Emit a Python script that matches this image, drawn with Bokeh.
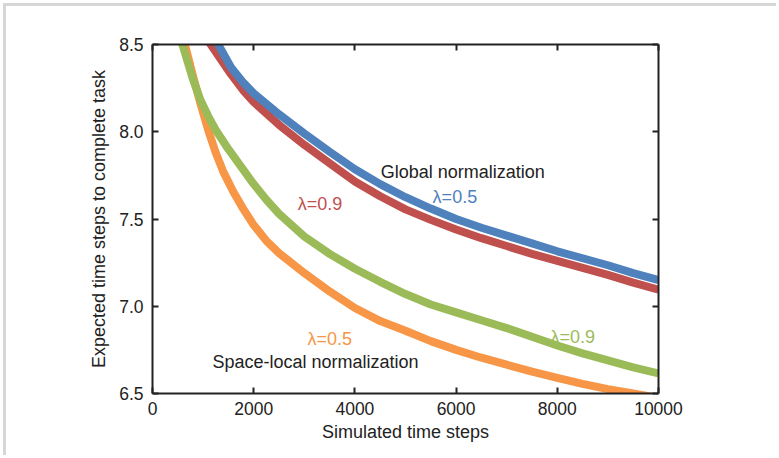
from bokeh.plotting import figure
from bokeh.models import FixedTicker, LinearAxis, Range1d, NumeralTickFormatter
from bokeh.embed import file_html
from bokeh.resources import INLINE
from bokeh.core.properties import value

# ---- data ----
x_ticks = [0, 2000, 4000, 6000, 8000, 10000]
y_ticks = [6.5, 7.0, 7.5, 8.0, 8.5]

global_05_x = [1150, 1300, 1550, 1800, 2000, 2500, 3000, 3500, 4000, 4500, 5000,
               5500, 6000, 6500, 7000, 7500, 8000, 8500, 9000, 9500, 10000]
global_05_y = [8.60, 8.50, 8.37, 8.28, 8.22, 8.10, 7.99, 7.885, 7.785, 7.70, 7.625,
               7.56, 7.50, 7.45, 7.405, 7.36, 7.315, 7.275, 7.235, 7.19, 7.15]

global_09_x = [930, 1150, 1550, 1800, 2000, 2500, 3000, 3500, 4000, 4500, 5000,
               5500, 6000, 6500, 7000, 7500, 8000, 8500, 9000, 9500, 10000]
global_09_y = [8.60, 8.50, 8.33, 8.235, 8.17, 8.04, 7.925, 7.82, 7.715, 7.63, 7.555,
               7.495, 7.44, 7.39, 7.345, 7.30, 7.26, 7.22, 7.18, 7.135, 7.095]

local_09_x = [490, 590, 800, 950, 1100, 1250, 1500, 1750, 2000, 2250, 2500, 3000, 3500,
              4000, 4500, 5000, 5500, 6000, 6500, 7000, 7500, 8000, 8500, 9000, 9500, 10000]
local_09_y = [8.60, 8.50, 8.30, 8.18, 8.09, 8.01, 7.90, 7.80, 7.70, 7.61, 7.53, 7.40, 7.30,
              7.215, 7.14, 7.07, 7.01, 6.965, 6.92, 6.875, 6.825, 6.775, 6.73, 6.69, 6.65, 6.615]

local_05_x = [550, 640, 800, 950, 1100, 1250, 1400, 1600, 1800, 2000, 2250, 2500, 3000, 3500,
              4000, 4500, 5000, 5500, 6000, 6500, 7000, 7500, 8000, 8500, 9000, 9500, 10000]
local_05_y = [8.60, 8.50, 8.32, 8.16, 8.01, 7.88, 7.77, 7.655, 7.555, 7.465, 7.375, 7.305, 7.19, 7.085,
              6.99, 6.915, 6.86, 6.80, 6.75, 6.705, 6.665, 6.625, 6.59, 6.555, 6.525, 6.50, 6.475]

BLUE = "#4F81BD"
RED = "#C0504D"
GREEN = "#9BBB59"
ORANGE = "#F79646"
INK = "#222222"
FONT = "Liberation Sans"
FS = "18px"

p = figure(width=773, height=452,
           x_range=Range1d(0, 10000), y_range=Range1d(6.5, 8.5),
           output_backend="svg", toolbar_location=None,
           min_border_left=146, min_border_right=121,
           min_border_top=38, min_border_bottom=65)
p.styles = {"border-top": "3px solid #d6d6d6", "border-left": "3px solid #d6d6d6",
            "margin-left": "3px", "margin-top": "3px"}
p.grid.visible = False
p.outline_line_color = None
p.background_fill_color = "white"
p.border_fill_color = "white"

LW = 8
p.line(global_09_x, global_09_y, line_color=RED, line_width=LW, line_join="round")
p.line(global_05_x, global_05_y, line_color=BLUE, line_width=LW, line_join="round")
p.line(local_05_x, local_05_y, line_color=ORANGE, line_width=LW, line_join="round")
p.line(local_09_x, local_09_y, line_color=GREEN, line_width=LW, line_join="round")

def style_axis(ax):
    ax.axis_line_color = INK
    ax.axis_line_width = 2
    ax.major_tick_line_color = INK
    ax.major_tick_line_width = 2
    ax.major_tick_in = 6
    ax.major_tick_out = 0
    ax.minor_tick_line_color = None
    ax.major_label_text_font = FONT
    ax.major_label_text_color = INK
    ax.major_label_text_font_size = "17.5px"
    ax.axis_label_text_font = FONT
    ax.axis_label_text_font_size = FS
    ax.axis_label_text_font_style = "normal"
    ax.axis_label_text_color = INK

xa = p.xaxis[0]
xa.ticker = FixedTicker(ticks=x_ticks)
xa.formatter = NumeralTickFormatter(format="0")
xa.axis_label = "Simulated time steps"
style_axis(xa)
xa.major_label_standoff = 8
xa.axis_label_standoff = 4

ya = p.yaxis[0]
ya.ticker = FixedTicker(ticks=y_ticks)
ya.formatter = NumeralTickFormatter(format="0.0")
ya.axis_label = "Expected time steps to complete task"
style_axis(ya)
ya.major_label_standoff = 9
ya.axis_label_standoff = 7

top = LinearAxis(ticker=FixedTicker(ticks=x_ticks),
                 major_label_overrides={t: "" for t in x_ticks})
style_axis(top)
p.add_layout(top, "above")
right = LinearAxis(ticker=FixedTicker(ticks=y_ticks),
                   major_label_overrides={t: "" for t in y_ticks})
style_axis(right)
p.add_layout(right, "right")

def label(x, y, txt, color):
    p.text(x=[x], y=[y], text=[txt], text_color=color, text_font=value(FONT),
           text_font_size=FS, text_align="left", text_baseline="alphabetic")

label(4509, 7.772, "Global normalization", INK)
label(5536, 7.628, "λ=0.5", BLUE)
label(2870, 7.586, "λ=0.9", RED)
label(3061, 6.815, "λ=0.5", ORANGE)
label(1185, 6.678, "Space-local normalization", INK)
label(7867, 6.825, "λ=0.9", GREEN)

open("out.html", "w").write(file_html(p, INLINE))
